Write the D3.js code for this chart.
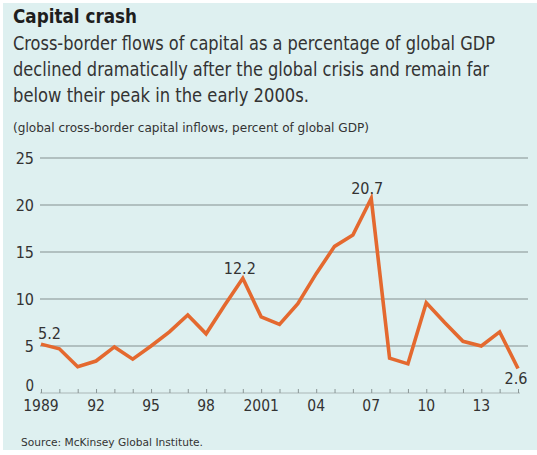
<!DOCTYPE html>
<html>
<head>
<meta charset="utf-8">
<script src="https://cdn.jsdelivr.net/npm/d3@7"></script>
<style>
  html, body { margin: 0; padding: 0; background: #ffffff; }
  svg { display: block; }
  text { font-family: "Liberation Sans Narrow", "DejaVu Sans Condensed", "Roboto Condensed", sans-serif; }
</style>
</head>
<body>
<svg id="chart" width="537" height="455"></svg>
<script>
// Global cross-border capital inflows, percent of global GDP
const years = d3.range(1989, 2016);
const inflows = [5.2, 4.7, 2.8, 3.4, 4.9, 3.6, 5.0, 6.5, 8.3, 6.3, 9.3, 12.2, 8.1,
                 7.3, 9.5, 12.7, 15.6, 16.8, 20.7, 3.7, 3.1, 9.6, 7.5, 5.5, 5.0, 6.5, 2.6];
const yTicks = [0, 5, 10, 15, 20, 25];
const xTickLabels = [
  { year: 1989, label: "1989" }, { year: 1992, label: "92" }, { year: 1995, label: "95" },
  { year: 1998, label: "98" }, { year: 2001, label: "2001" }, { year: 2004, label: "04" },
  { year: 2007, label: "07" }, { year: 2010, label: "10" }, { year: 2013, label: "13" }
];
const callouts = [
  { year: 1989, text: "5.2", anchor: "start", dx: -3, dy: -5 },
  { year: 2000, text: "12.2", anchor: "middle", dx: -3, dy: -4 },
  { year: 2007, text: "20.7", anchor: "middle", dx: -4, dy: -4 },
  { year: 2015, text: "2.6", anchor: "middle", dx: -2, dy: 15 }
];

const svg = d3.select("#chart");

// panel background
svg.append("rect").attr("x", 3).attr("y", 3).attr("width", 534).attr("height", 447)
  .attr("fill", "#def0f0");

// heading block
const head = [
  { t: "Capital crash", y: 23, size: 20, weight: "bold", fill: "#1e1e1e", w: 124 },
  { t: "Cross-border flows of capital as a percentage of global GDP", y: 50, size: 19, weight: "normal", fill: "#333", w: 482 },
  { t: "declined dramatically after the global crisis and remain far", y: 76, size: 19, weight: "normal", fill: "#333", w: 476 },
  { t: "below their peak in the early 2000s.", y: 102, size: 19, weight: "normal", fill: "#333", w: 296 },
  { t: "(global cross-border capital inflows, percent of global GDP)", y: 132, size: 13, weight: "normal", fill: "#333", w: 356 }
];
svg.selectAll("text.head").data(head).join("text")
  .attr("class", "head")
  .attr("x", 13).attr("y", d => d.y)
  .attr("font-size", d => d.size).attr("font-weight", d => d.weight)
  .attr("fill", d => d.fill)
  .attr("textLength", d => d.w).attr("lengthAdjust", "spacingAndGlyphs")
  .text(d => d.t);

const x = d3.scaleLinear().domain([1989, 2015]).range([41, 518]);
const y = d3.scaleLinear().domain([0, 25]).range([393, 158]);

// horizontal grid
svg.append("g").selectAll("line").data(yTicks.filter(v => v > 0)).join("line")
  .attr("x1", 40).attr("x2", 528)
  .attr("y1", d => y(d)).attr("y2", d => y(d))
  .attr("stroke", "#a2b0b0").attr("stroke-width", 1.6);

// y labels ("0" sits just above the baseline)
svg.append("g").selectAll("text").data(yTicks).join("text")
  .attr("x", 34).attr("y", d => d === 0 ? y(d) - 2 : y(d) + 6)
  .attr("text-anchor", "end").attr("font-size", d => d === 0 ? 15 : 16).attr("fill", "#333")
  .text(d => d);

// x axis: baseline with a tick every year
const xAxis = d3.axisTop(x)
  .tickValues(years)
  .tickSize(4)
  .tickFormat("");
const gx = svg.append("g").attr("transform", `translate(0,${y(0)})`).call(xAxis);
gx.select(".domain").attr("stroke", "#a9b6b6").attr("stroke-width", 1.2).attr("d", `M40,0H520`);
gx.selectAll(".tick line").attr("stroke", "#8a9696").attr("stroke-width", 1);

svg.append("g").selectAll("text").data(xTickLabels).join("text")
  .attr("x", d => x(d.year)).attr("y", 411)
  .attr("text-anchor", "middle").attr("font-size", 15.5).attr("fill", "#333")
  .text(d => d.label);

// data line
const line = d3.line().x((d, i) => x(years[i])).y(d => y(d));
svg.append("path").datum(inflows)
  .attr("d", line)
  .attr("fill", "none")
  .attr("stroke", "#e4692f").attr("stroke-width", 3.6)
  .attr("stroke-linejoin", "miter");

// value callouts
svg.append("g").selectAll("text").data(callouts).join("text")
  .attr("x", d => x(d.year) + d.dx)
  .attr("y", d => y(inflows[years.indexOf(d.year)]) + d.dy)
  .attr("text-anchor", d => d.anchor).attr("font-size", 16).attr("fill", "#333")
  .text(d => d.text);

// source
svg.append("text").attr("x", 21).attr("y", 446)
  .attr("font-size", 11).attr("fill", "#333")
  .attr("textLength", 182).attr("lengthAdjust", "spacingAndGlyphs")
  .text("Source: McKinsey Global Institute.");
</script>
</body>
</html>
